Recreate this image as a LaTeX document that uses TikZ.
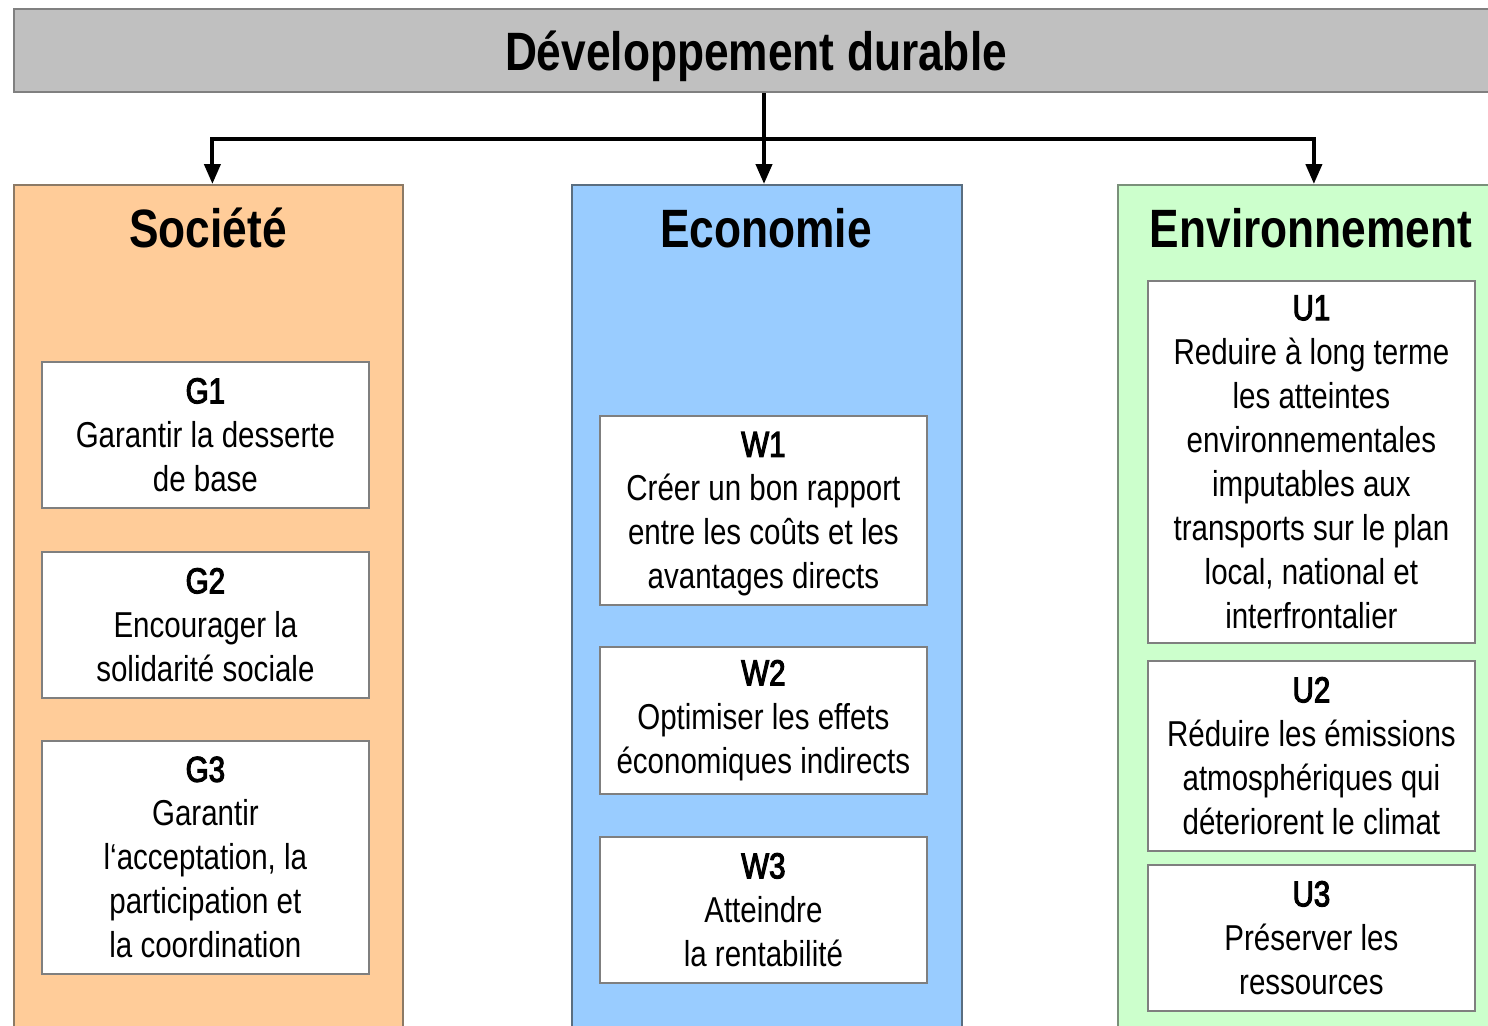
\documentclass[tikz,border=0pt]{standalone}
\usepackage{fontspec}
\setmainfont{Liberation Sans}[FakeStretch=0.82]
\newfontfamily\idfont{Liberation Sans}[FakeStretch=0.82, FakeBold=3]
\usepackage{xcolor}
\usepackage{tikz}
\usetikzlibrary{arrows.meta, positioning, calc}

\definecolor{barGray}{HTML}{C0C0C0}
\definecolor{barEdge}{HTML}{808080}
\definecolor{socFill}{HTML}{FFCC99}
\definecolor{socEdge}{HTML}{8C7A66}
\definecolor{ecoFill}{HTML}{99CCFF}
\definecolor{ecoEdge}{HTML}{5A6E80}
\definecolor{envFill}{HTML}{CCFFCC}
\definecolor{envEdge}{HTML}{7A907A}
\definecolor{goalEdge}{HTML}{7F7F7F}

\newcommand{\gid}[1]{{\idfont #1}}

\begin{document}
\begin{tikzpicture}[
  x=0.5pt, y=-0.5pt,
  every node/.style={font=\fontsize{18pt}{22pt}\selectfont},
  titlebar/.style={rectangle, draw=barEdge, line width=1pt, fill=barGray, minimum width=742pt, minimum height=41.5pt, anchor=north west, font=\fontsize{27pt}{32pt}\selectfont\bfseries},
  column/.style={rectangle, line width=0.9pt, minimum height=428pt, anchor=north west},
  head/.style={anchor=base, font=\fontsize{27pt}{32pt}\selectfont\bfseries},
  goal/.style={rectangle, draw=goalEdge, line width=0.9pt, fill=white, minimum width=163.5pt, anchor=north west, align=center, inner sep=0pt},
  arrow/.style={-{Triangle[length=10pt, width=8pt]}, line width=2pt},
]
\useasboundingbox (0,0) rectangle (1488,1025);
\clip (0,0) rectangle (1488,1025);

% Title
\node[titlebar, text depth=-2pt] (title) at (13,8) {Développement durable};

% Columns
\node[column, fill=socFill, draw=socEdge, minimum width=194.5pt] (soc) at (13,184) {};
\node[column, fill=ecoFill, draw=ecoEdge, minimum width=195pt] (eco) at (571,184) {};
\node[column, fill=envFill, draw=envEdge, minimum width=196pt] (env) at (1117,184) {};

\node[head] (soc-h) at (208,247) {Société};
\node[head] (eco-h) at (766,247) {Economie};
\node[head] (env-h) at (1311,247) {Environnement};

% Société
\node[goal, minimum height=73pt] (g1) at (41,361) {\gid{G1}\\Garantir la desserte\\de base};
\node[goal, minimum height=73pt] (g2) at (41,551) {\gid{G2}\\Encourager la\\solidarité sociale};
\node[goal, minimum height=116.5pt] (g3) at (41,740) {\gid{G3}\\Garantir\\l‘acceptation, la\\participation et\\la coordination};

% Economie
\node[goal, minimum height=94.5pt, text depth=-2pt] (w1) at (599,415) {\gid{W1}\\Créer un bon rapport\\entre les coûts et les\\avantages directs};
\node[goal, minimum height=73.5pt] (w2) at (599,646) {\gid{W2}\\Optimiser les effets\\économiques indirects};
\node[goal, minimum height=73pt] (w3) at (599,836) {\gid{W3}\\Atteindre\\la rentabilité};

% Environnement
\node[goal, minimum height=181pt] (u1) at (1147,280) {\gid{U1}\\Reduire à long terme\\les atteintes\\environnementales\\imputables aux\\transports sur le plan\\local, national et\\interfrontalier};
\node[goal, minimum height=95pt] (u2) at (1147,660) {\gid{U2}\\Réduire les émissions\\atmosphériques qui\\déteriorent le climat};
\node[goal, minimum height=73pt] (u3) at (1147,864) {\gid{U3}\\Préserver les\\ressources};

% Arrows
\coordinate (hub) at ($([xshift=4pt]title.south)+(0,46)$);
\draw[arrow] ([xshift=4pt]title.south) -- ([xshift=4pt]title.south |- eco.north);
\draw[arrow] (hub) -| ([xshift=2pt]soc.north);
\draw[arrow] (hub) -| (env.north);

\end{tikzpicture}
\end{document}
